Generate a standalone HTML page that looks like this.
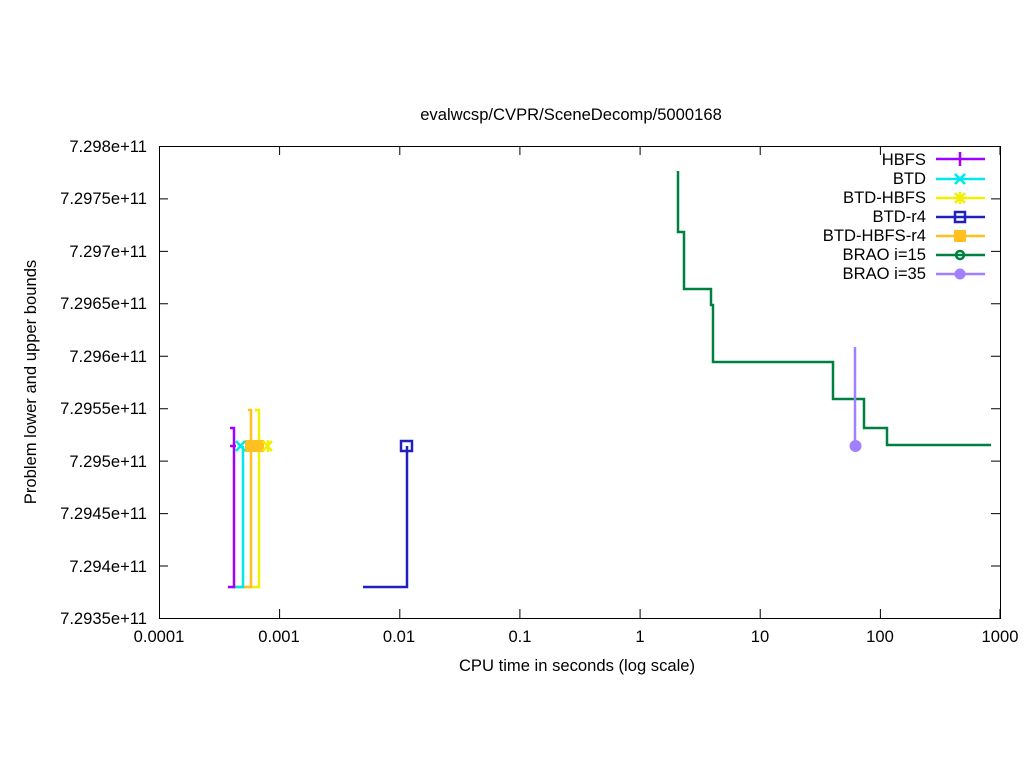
<!DOCTYPE html>
<html><head><style>body{margin:0;background:#fff}svg{display:block}text{font-family:"Liberation Sans",sans-serif;font-size:16.6px;fill:#000}</style></head><body>
<svg width="1024" height="768" xmlns="http://www.w3.org/2000/svg">
<rect x="159.5" y="146.5" width="841" height="472" fill="none" stroke="#000" stroke-width="1"/>
<g stroke="#000" stroke-width="1">
<path d="M159 146.5h9M1000 146.5h-9M159 198.9h9M1000 198.9h-9M159 251.4h9M1000 251.4h-9M159 303.8h9M1000 303.8h-9M159 356.2h9M1000 356.2h-9M159 408.7h9M1000 408.7h-9M159 461.1h9M1000 461.1h-9M159 513.6h9M1000 513.6h-9M159 566h9M1000 566h-9"/>
<path d="M159.5 618v-9M159.5 146v9M279.6 618v-9M279.6 146v9M399.8 618v-9M399.8 146v9M519.9 618v-9M519.9 146v9M640.1 618v-9M640.1 146v9M760.2 618v-9M760.2 146v9M880.4 618v-9M880.4 146v9M1000 618v-9M1000 146v9"/>
</g>
<g text-anchor="end">
<text x="147" y="152">7.298e+11</text><text x="147" y="204">7.2975e+11</text><text x="147" y="257">7.297e+11</text><text x="147" y="309">7.2965e+11</text><text x="147" y="362">7.296e+11</text><text x="147" y="414">7.2955e+11</text><text x="147" y="467">7.295e+11</text><text x="147" y="519">7.2945e+11</text><text x="147" y="572">7.294e+11</text><text x="147" y="624">7.2935e+11</text>
</g>
<g text-anchor="middle">
<text x="159" y="642">0.0001</text><text x="279" y="642">0.001</text><text x="399" y="642">0.01</text><text x="520" y="642">0.1</text><text x="640" y="642">1</text><text x="760" y="642">10</text><text x="880" y="642">100</text><text x="1000" y="642">1000</text>
<text x="577" y="671">CPU time in seconds (log scale)</text>
<text x="571" y="120">evalwcsp/CVPR/SceneDecomp/5000168</text>
<text transform="translate(36,382) rotate(-90)">Problem lower and upper bounds</text>
</g>
<g text-anchor="end">
<text x="926" y="165">HBFS</text><text x="926" y="184">BTD</text><text x="926" y="203">BTD-HBFS</text><text x="926" y="222">BTD-r4</text><text x="926" y="241">BTD-HBFS-r4</text><text x="926" y="260">BRAO i=15</text><text x="926" y="279">BRAO i=35</text>
</g>
<g stroke-width="2.5" fill="none">
<path d="M936 159h49M960 152v14" stroke="#a000ff"/>
<path d="M936 179h49M955 174l10 10M955 184l10-10" stroke="#00e8e8"/>
<path d="M936 198h49M955 193l10 10M955 203l10-10M960 192v12" stroke="#f0f000"/>
<path d="M936 217h49" stroke="#2020c0"/><rect x="955" y="212" width="10" height="10" stroke="#2020c0"/>
<path d="M936 236h49" stroke="#ffc020"/><rect x="954" y="230" width="12" height="12" fill="#ffc020" stroke="none"/>
<path d="M936 255h49" stroke="#008040"/><circle cx="960" cy="255" r="4" stroke="#008040"/>
<path d="M936 274h49" stroke="#a080ff"/><circle cx="960" cy="274" r="5.5" fill="#a080ff" stroke="none"/>
<path d="M678 171V232H684V289H711V305H713V362H833V399H864V428H887V445H991" stroke="#008040"/>
<path d="M855 347V446" stroke="#a080ff"/><circle cx="855.5" cy="446" r="6" fill="#a080ff"/>
<path d="M363 587H407V446" stroke="#2020c0"/><rect x="401" y="441" width="11" height="10" stroke="#2020c0"/>
<path d="M228 587H259V410H255" stroke="#f0f000"/>
<path d="M235 587H251V410H248" stroke="#ffc020"/>
<path d="M232 587H243V446" stroke="#00e8e8"/>
<path d="M230 428H234V587H228M230 446H236" stroke="#a000ff"/>
<rect x="245" y="440" width="19" height="12" fill="#ffc020" stroke="none"/>
<path d="M236 441l9 10M236 451l9-10" stroke="#00e8e8"/>
<path d="M263 441l9 10M263 451l9-10M268 440v12" stroke="#f0f000"/>
</g>
</svg>
</body></html>
